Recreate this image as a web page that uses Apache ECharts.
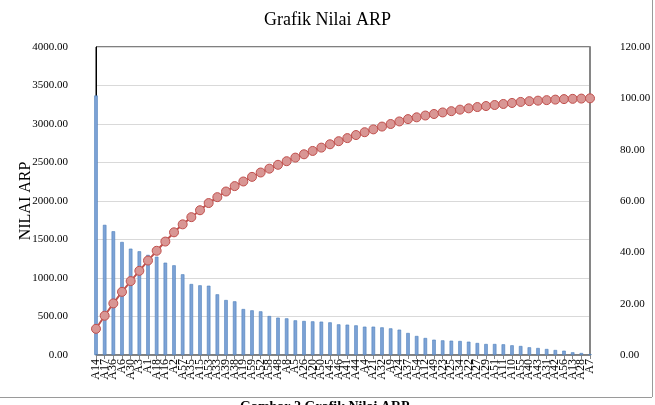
<!DOCTYPE html>
<html>
<head>
<meta charset="utf-8">
<title>Grafik Nilai ARP</title>
<script src="https://cdn.jsdelivr.net/npm/echarts@6/dist/echarts.min.js"></script>
<style>
    html, body {margin: 0; padding: 0; background: #fff;}
    #main {width: 655px; height: 405px;}
</style>
</head>
<body>
<div id="main"></div>
<script>
// kategori (urutan dari nilai ARP terbesar)
var categories = ['A14','A17','A36','A6','A30','A3','A1','A18','A16','A2',
    'A57','A35','A15','A53','A33','A39','A38','A19','A59','A52',
    'A58','A48','A8','A5','A26','A20','A50','A45','A46','A41',
    'A44','A4','A21','A32','A9','A24','A37','A54','A12','A49',
    'A23','A25','A34','A22','A27','A29','A51','A11','A10','A55',
    'A40','A43','A31','A42','A56','A13','A28','A7'];

// nilai ARP (sumbu kiri)
var arpValues = [3370,1690,1607,1468,1381,1347,1300,1277,1199,1165,
    1048,922,905,900,788,714,697,597,580,567,
    506,485,476,450,442,437,433,424,398,394,
    385,368,368,359,346,329,286,247,221,199,
    190,186,182,173,156,143,143,139,126,117,
    100,91,78,65,56,35,26,10];

// persen kumulatif (sumbu kanan)
var cumPercent = [10.2,15.3,20.1,24.6,28.8,32.8,36.8,40.6,44.2,47.8,
    50.9,53.7,56.4,59.2,61.5,63.7,65.8,67.6,69.4,71.1,
    72.6,74.1,75.5,76.9,78.2,79.5,80.8,82.1,83.3,84.5,
    85.7,86.8,87.9,89.0,90.0,91.0,91.9,92.6,93.3,93.9,
    94.5,95.0,95.6,96.1,96.6,97.0,97.4,97.8,98.2,98.6,
    98.9,99.1,99.3,99.5,99.7,99.8,99.9,100.0];

var serif = '"Liberation Serif", "DejaVu Serif", serif';

var option = {
    animation: false,
    textStyle: {fontFamily: serif},
    title: {
        text: 'Grafik Nilai ARP',
        left: 'center',
        top: 6,
        textStyle: {fontFamily: serif, fontSize: 18, fontWeight: 'normal', color: '#000'}
    },
    grid: {
        left: 96,
        right: 65,
        top: 47,
        bottom: 50,
        show: true,
        borderColor: '#000',
        borderWidth: 1
    },
    xAxis: {
        type: 'category',
        data: categories,
        boundaryGap: false,
        axisLine: {lineStyle: {color: '#868686'}},
        axisTick: {show: true, alignWithLabel: true, length: 4, lineStyle: {color: '#868686'}},
        axisLabel: {interval: 0, rotate: 90, margin: 4, fontSize: 12, color: '#000', fontFamily: serif}
    },
    yAxis: [
        {
            type: 'value',
            name: 'NILAI ARP',
            nameLocation: 'middle',
            nameRotate: 90,
            nameGap: 62,
            nameMoveOverlap: false,
            nameTextStyle: {fontFamily: serif, fontSize: 16, color: '#000'},
            min: 0,
            max: 4000,
            interval: 500,
            axisLine: {show: true, lineStyle: {color: '#000'}},
            axisTick: {show: false},
            axisLabel: {margin: 28, fontSize: 11, color: '#000', fontFamily: serif,
                formatter: function (v) { return v.toFixed(2); }},
            splitLine: {lineStyle: {color: '#d9d9d9'}}
        },
        {
            type: 'value',
            min: 0,
            max: 120,
            interval: 20,
            axisLine: {show: true, lineStyle: {color: '#868686', width: 2}},
            axisTick: {show: false},
            axisLabel: {margin: 30, fontSize: 11, color: '#000', fontFamily: serif,
                formatter: function (v) { return v.toFixed(2); }},
            splitLine: {show: false}
        }
    ],
    series: [
        {
            name: 'Nilai ARP',
            type: 'bar',
            data: arpValues,
            barWidth: 3.5,
            itemStyle: {color: '#7ea3d6', borderColor: '#4a7ebb', borderWidth: 0.6}
        },
        {
            name: 'Kumulatif (%)',
            type: 'line',
            yAxisIndex: 1,
            data: cumPercent,
            symbol: 'circle',
            symbolSize: 9,
            lineStyle: {color: '#c0504d', width: 2},
            itemStyle: {color: '#d99694', borderColor: '#c0504d', borderWidth: 1}
        }
    ],
    graphic: [
        // bingkai luar grafik
        {type: 'line', shape: {x1: 0, y1: 397.5, x2: 652, y2: 397.5}, style: {stroke: '#9a9a9a', lineWidth: 1}},
        {type: 'line', shape: {x1: 652.5, y1: 0, x2: 652.5, y2: 397}, style: {stroke: '#9a9a9a', lineWidth: 1}},
        {
            type: 'text',
            left: 240,
            top: 400,
            style: {text: 'Gambar 2 Grafik Nilai ARP', font: 'bold 14px ' + serif, fill: '#000'}
        }
    ]
};

var myChart = echarts.init(document.getElementById('main'));
myChart.setOption(option);
</script>
</body>
</html>
